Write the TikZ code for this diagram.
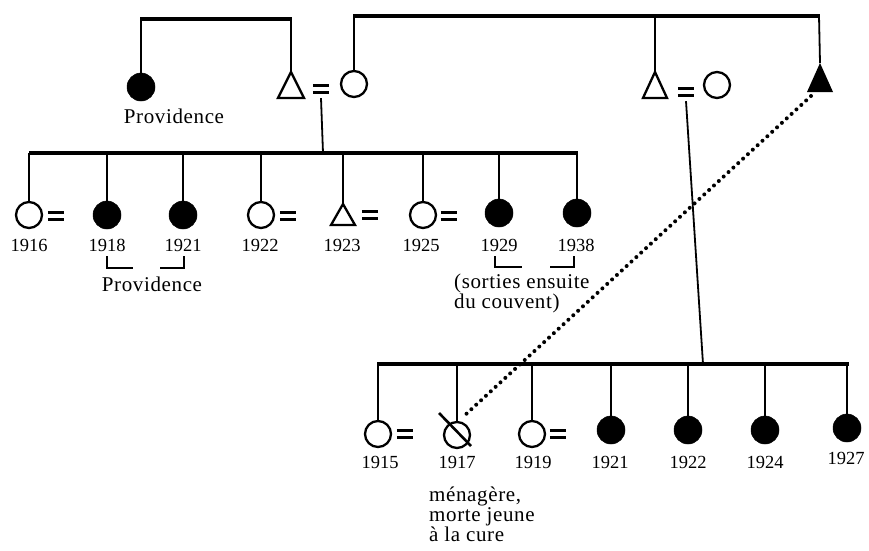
\documentclass[tikz,border=0pt]{standalone}
\usepackage{fontspec}
\setmainfont{Liberation Serif}[LetterSpace=3]
\newfontfamily\yrfont{Liberation Serif}
\newcommand\eqmark[2]{\node[eqs] (#1) at (#2) {};
  \draw[eqline] (#1.north west) -- (#1.north east) (#1.south west) -- (#1.south east);}
\newcommand\opentri[5]{\coordinate (#1) at (#2,#3);
  \draw[tri] (#1) -- ++(#4,#5) -- ++(-2*#4,0) -- cycle;}
\newcommand\filltri[5]{\coordinate (#1) at (#2,#3);
  \fill (#1) -- ++(#4,#5) -- ++(-2*#4,0) -- cycle;}
\begin{document}
\begin{tikzpicture}[x=1pt,y=-1pt,
  ln/.style={line width=1.8pt},
  bar/.style={line width=4.6pt},
  oc/.style={circle,draw,line width=2.3pt,minimum size=26pt,inner sep=0pt},
  fc/.style={circle,fill,draw,line width=0.5pt,minimum size=28pt,inner sep=0pt},
  tri/.style={line width=2.3pt,line join=miter},
  eqs/.style={minimum width=16pt,minimum height=6pt,inner sep=0pt},
  eqline/.style={line width=2.9pt},
  yr/.style={font=\yrfont\fontsize{18.5}{19}\selectfont,anchor=base,inner sep=0pt},
  txt/.style={font=\fontsize{21}{18}\selectfont,anchor=base west,inner sep=0pt},
  brk/.style={line width=1.8pt},
  dots/.style={line width=4pt,line cap=round,dash pattern=on 0pt off 6.6pt}]
\useasboundingbox (0,0) rectangle (869,550);

% ---------- top left family ----------
\coordinate (tl1) at (141,19); \coordinate (tl2) at (291,19);
\draw[bar] ([xshift=-1pt]tl1) -- ([xshift=1pt]tl2);
\node[fc] (prov) at (141,87) {};
\draw[ln] (tl1) -- (prov.north);
\opentri{fa}{291}{72}{13}{26}
\draw[ln] (tl2) -- (fa);
\node[txt,anchor=base] (provt) at (174,123) {Providence};
\eqmark{e0}{321,89}
\node[oc] (mo) at (354,84) {};

% ---------- top right family ----------
\coordinate (tr1) at (354,16); \coordinate (tr2) at (819,16);
\draw[bar] ([xshift=-1pt]tr1) -- ([xshift=1pt]tr2);
\draw[ln] (tr1) -- (mo.north);
\opentri{fb}{655}{72}{12}{26}
\draw[ln] (fb |- tr1) -- (fb);
\eqmark{e1}{686,92}
\node[oc] (mo2) at (717,85) {};
\filltri{pr}{820}{63}{13}{29}
\draw[ln] (tr2) -- (pr);

% ---------- middle generation ----------
\coordinate (m0) at (30,153); \coordinate (m1) at (577,153);
\draw[bar] ([xshift=-1pt]m0) -- ([xshift=1pt]m1);
\coordinate (mj) at (323,153);
\draw[ln] ([yshift=-6pt]e0.south) -- (mj);

\node[oc] (c16) at (29,215) {};
\draw[ln] (c16.north |- m0) -- (c16.north);
\eqmark{q16}{56,216}
\node[yr] (y16) at (29,251) {1916};

\node[fc] (c18) at (107,215) {};
\draw[ln] (c18.north |- m0) -- (c18.north);
\node[yr] (y18) at (107,251) {1918};

\node[fc] (c21) at (183,215) {};
\draw[ln] (c21.north |- m0) -- (c21.north);
\node[yr] (y21) at (183,251) {1921};

\node[oc] (c22) at (261,215) {};
\draw[ln] (c22.north |- m0) -- (c22.north);
\eqmark{q22}{288,216}
\node[yr] (y22) at (260,251) {1922};

\opentri{c23}{343}{204}{12}{21}
\draw[ln] (c23 |- m0) -- (c23);
\eqmark{q23}{370,215}
\node[yr] (y23) at (342,251) {1923};

\node[oc] (c25) at (423,215) {};
\draw[ln] (c25.north |- m0) -- (c25.north);
\eqmark{q25}{449,216}
\node[yr] (y25) at (421,251) {1925};

\node[fc] (c29) at (499,213) {};
\draw[ln] (c29.north |- m0) -- (c29.north);
\node[yr] (y29) at (499,251) {1929};

\node[fc] (c38) at (577,213) {};
\draw[ln] (c38.north |- m0) -- (c38.north);
\node[yr] (y38) at (576,251) {1938};

% brackets
\draw[brk] (107,256) -- (107,268) -- (133,268);
\draw[brk] (160,268) -- (184,268) -- (184,256);
\node[txt,anchor=base] (provb) at (152,291) {Providence};
\draw[brk] (495,256) -- (495,267) -- (522,267);
\draw[brk] (550,267) -- (574,267) -- (574,256);
\node[txt,align=left,anchor=north west] (sort) at (454,274) {(sorties ensuite\\du couvent)};

% ---------- lower generation ----------
\coordinate (dj) at (703,364);
\draw[ln] ([yshift=-6pt]e1.south) -- (dj);
\coordinate (l0) at (378,364); \coordinate (l1) at (848,364);
\draw[bar] ([xshift=-1pt]l0) -- ([xshift=1pt]l1);

\node[oc] (d15) at (378,434) {};
\draw[ln] (d15.north |- l0) -- (d15.north);
\eqmark{r15}{405,434}
\node[yr] (z15) at (380,468) {1915};

\node[oc] (d17) at (457,435) {};
\draw[ln] (d17.north |- l0) -- (d17.north);
\draw[line width=2.6pt] (439,413) -- (471,446);
\node[yr] (z17) at (457,468) {1917};

\node[oc] (d19) at (532,434) {};
\draw[ln] (d19.north |- l0) -- (d19.north);
\eqmark{r19}{558,434}
\node[yr] (z19) at (533,468) {1919};

\node[fc] (d21) at (611,430) {};
\draw[ln] (d21.north |- l0) -- (d21.north);
\node[yr] (z21) at (610,468) {1921};

\node[fc] (d22) at (688,430) {};
\draw[ln] (d22.north |- l0) -- (d22.north);
\node[yr] (z22) at (688,468) {1922};

\node[fc] (d24) at (765,430) {};
\draw[ln] (d24.north |- l0) -- (d24.north);
\node[yr] (z24) at (765,468) {1924};

\node[fc] (d27) at (847,428) {};
\draw[ln] (d27.north |- l0) -- (d27.north);
\node[yr] (z27) at (846,464) {1927};

\node[txt,align=left,anchor=north west] (men) at (429,487)
  {ménagère,\\morte jeune\\à la cure};

% ---------- dotted link ----------
\coordinate (ds) at (811,96);
\coordinate (de) at (464,416);
\draw[dots] (ds) -- (de);
\end{tikzpicture}
\end{document}
